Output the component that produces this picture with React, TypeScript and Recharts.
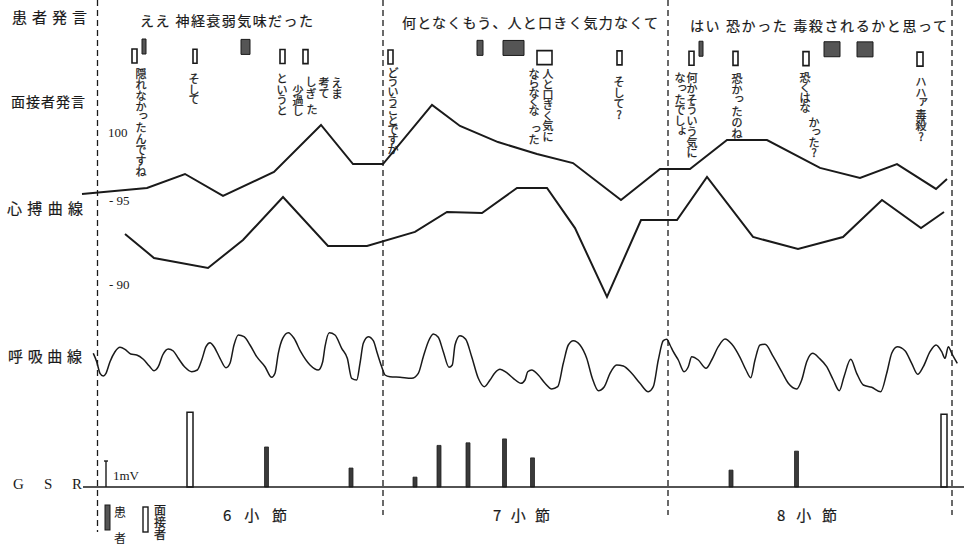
import React from 'react';
import {
  ComposedChart,
  XAxis,
  YAxis,
  Line,
  Bar,
  ReferenceLine,
  ReferenceArea,
  ReferenceDot,
} from 'recharts';

const JP = '"Noto Sans CJK JP", "Noto Sans CJK SC", sans-serif';
const SERIF = '"Liberation Serif", "DejaVu Serif", serif';
const INK = '#1a1a1a';

// ---- time axis (arbitrary units, 0..97) ----
const measureBounds = [9.75, 38.3, 66.8, 95.2];
const measureNames = ['6 小 節', '7 小 節', '8 小 節'];
const measureNameSpans = [[22.3, 28.7], [49.3, 55.0], [77.7, 83.7]];

// ---- patient speech ----
const patientSpeech = ['ええ 神経衰弱気味だった', '何となくもう、人と口きく気力なくて', 'はい 恐かった 毒殺されるかと思って'];
const patientSpeechSpans = [[14.0, 31.3], [40.2, 65.8], [69.0, 94.7]];

// ---- utterance markers (start, end) ----
const patientMarkStart = [14.2, 24.1, 47.7, 50.3, 69.9, 82.4, 85.7];
const patientMarkEnd = [14.6, 25.0, 48.3, 52.4, 70.3, 84.0, 87.3];
const interviewerMarkStart = [13.2, 19.3, 28.0, 30.3, 38.8, 53.7, 61.7, 68.9, 73.3, 80.3, 91.7];
const interviewerMarkEnd = [13.7, 19.7, 28.5, 30.8, 39.3, 55.2, 62.2, 69.4, 73.8, 80.9, 92.3];

// ---- interviewer utterances (vertical text columns) ----
const noteTimes = [14.1, 19.4, 28.2, 33.7, 32.4, 31.1, 29.8, 39.3, 54.8, 53.4, 61.9, 69.2, 68.0, 73.7, 80.5, 81.4, 92.1];
const noteTexts = [
  '隠れなかったんですね', 'そして', 'というと', 'えま', '考て', 'しぎ', '少過し',
  'どういうことですか', '人と口きく気に', 'ならなくな　った', 'そして?',
  '何かそういう気に', 'なったでしょ', '恐かったのね', '恐くはな', 'かった?', 'ハハァ毒殺?',
];
// layout of the columns: top (px) and character pitch (px)
const noteTops = [68, 73, 73, 76, 76, 75, 85, 67, 68, 68, 75, 72, 72, 72, 72, 117, 75];
const notePitch = [10.8, 10.5, 10.5, 11, 11, 12, 10, 9.6, 10.4, 9.4, 11, 10.7, 10.7, 11, 10, 10, 11];
const extraNoteTime = 31.2;
const extraNoteText = 'た';
const extraNoteTop = 103;

// ---- heart rate (beats/min) ----
const hrUpperT = [8.2, 14.7, 18.5, 22.3, 27.4, 32.1, 35.3, 38.3, 43.2, 46.0, 49.8, 53.7, 57.3, 62.1, 66.0, 69.0, 72.7, 76.7, 82.0, 86.0, 89.7, 93.6, 94.7];
const hrUpperV = [95.24, 95.6, 96.43, 95.12, 96.55, 99.35, 97.02, 97.02, 100.54, 99.29, 98.33, 97.62, 97.08, 94.88, 96.73, 96.73, 98.45, 98.45, 96.79, 96.19, 97.02, 95.54, 96.13];
const hrLowerT = [12.5, 15.4, 20.8, 24.3, 28.3, 32.8, 36.7, 41.5, 44.7, 48.2, 51.7, 54.7, 57.5, 60.7, 64.1, 67.7, 70.7, 75.3, 79.8, 84.3, 88.2, 92.1, 94.4];
const hrLowerV = [92.86, 91.43, 90.83, 92.5, 95.06, 92.14, 92.14, 92.98, 94.17, 94.11, 95.6, 95.6, 93.21, 89.11, 93.69, 93.69, 96.25, 92.68, 91.96, 92.68, 94.88, 93.21, 94.17];
const hrTicks = [90, 95];
const hrTopLabel = '100';

// ---- respiration (arbitrary units) ----
const respT = [
  9.33, 9.67, 10.0, 10.33, 10.6, 11.0, 11.5, 12.0, 12.5, 13.07, 13.67, 14.33, 14.93, 15.4, 15.83, 16.27, 16.83, 17.33, 17.83, 18.5,
  19.17, 19.73, 20.17, 20.6, 21.0, 21.4, 22.0, 22.6, 23.0, 23.4, 23.83, 24.4, 25.0, 25.67, 26.5, 27.17, 27.5, 27.83, 28.27, 28.83,
  29.4, 30.07, 31.0, 31.83, 32.27, 32.5, 32.93, 33.5, 34.17, 34.73, 35.17, 35.67, 36.0, 36.33, 36.83, 37.33, 37.73, 38.17, 38.5, 39.0,
  40.0, 41.17, 41.83, 42.33, 42.83, 43.33, 43.83, 44.33, 44.9, 45.23, 45.5, 46.0, 46.57, 47.17, 47.83, 48.43, 49.0, 49.5, 50.0, 50.67,
  51.33, 52.1, 52.5, 52.77, 53.17, 53.83, 54.5, 55.17, 55.77, 56.33, 56.83, 57.33, 58.0, 58.67, 59.23, 59.83, 60.43, 61.0, 61.67, 62.33,
  63.17, 64.0, 64.83, 65.33, 65.83, 66.33, 66.67, 67.0, 67.33, 67.83, 68.4, 68.83, 69.17, 69.83, 70.6, 71.17, 71.83, 72.5, 73.17, 74.0,
  74.6, 75.07, 75.5, 76.0, 76.5, 77.33, 78.17, 78.83, 79.67, 80.17, 80.67, 81.27, 81.93, 82.67, 83.33, 83.93, 84.4, 85.07, 85.67, 86.33,
  87.17, 88.07, 88.67, 89.17, 89.73, 90.5, 91.17, 91.77, 92.33, 93.0, 93.6, 94.17, 94.5, 94.83, 95.17, 95.73,
];
const respV = [
  11.7, 3.3, -8.3, -11, -8.3, 3.3, 13.3, 17.7, 15.7, 11, 10, 5.7, -1, -5.7, -1.7, 10, 16, 14, 6.7, -2.3,
  -6.7, -5, 5, 18.3, 22.3, 18.3, 6.7, -2.7, 1.7, 20, 30, 28.3, 20, 8.3, -1.7, -12.3, -8.3, 11.7, 26.7, 32.3,
  26.7, 13.3, 0, -5, 3.3, 18.3, 32.3, 30, 16.7, 6.7, -13.3, -15, 1.7, 21.7, 28.3, 24.3, 11.7, -1.7, -10, -11.7,
  -12.3, -13.3, -8.3, 8.3, 23.3, 31, 27.7, 13.3, -2.3, 0, 20, 29.3, 25.7, 8.3, -13.3, -21.7, -15, -7.7, -4.3, -7.7,
  -13.3, -18.3, -15, -6.7, -5, -10, -18.3, -24, -21.7, 1.7, 20, 24.3, 20, 6.7, -13.3, -25.7, -21.7, -8.3, 0, -1,
  -8.3, -18.3, -26.7, -21.7, 5, 24.3, 25.7, 20, 13.3, 5, -6.7, -1.7, 8.3, 5, -3.3, 5, 18.3, 26, 21, 7.7,
  -5, -12.7, 5, 20, 20.7, 8.3, -6.7, -18.3, -24, -15, 3.3, 11.7, 6.7, -1.7, -15, -25.7, -11.7, 5.7, -8.3, -20,
  -22.3, -26.7, -8.3, 11.7, 18.3, 14.3, 1.7, -9.3, -1.7, 13.3, 20, 13.3, 6.7, 18.3, 11.7, 1.7,
];

// ---- GSR (mV) ----
const gsrPatientT = [26.65, 35.1, 41.5, 43.9, 46.8, 50.45, 53.25, 73.1, 79.65];
const gsrPatientV = [1.54, 0.73, 0.38, 1.6, 1.7, 1.85, 1.12, 0.65, 1.38];
const gsrInterviewerT = [19.0, 94.4];
const gsrInterviewerV = [2.88, 2.8];
const gsrBaseT = [8.3, 96.4];
const gsrBaseV = [0, 0];
const gsrScaleT = 10.6;
const gsrScaleV = 1;

// ---- build series ----
const hrUpper = hrUpperT.map((t, i) => ({ t, v: hrUpperV[i] }));
const hrLower = hrLowerT.map((t, i) => ({ t, v: hrLowerV[i] }));
const resp = respT.map((t, i) => ({ t, r: respV[i] }));
const gsrBase = gsrBaseT.map((t, i) => ({ t, g: gsrBaseV[i] }));
const gsrScale = [{ t: gsrScaleT, g: 0 }, { t: gsrScaleT, g: gsrScaleV }];
const gsrBars = [
  ...gsrPatientT.map((t, i) => ({ t, p: gsrPatientV[i] })),
  ...gsrInterviewerT.map((t, i) => ({ t, q: gsrInterviewerV[i] })),
].sort((a, b) => a.t - b.t);

const SMALL = 'っゃゅょぁぃぅぇぉッャュョァィゥェォ';
const skew = (t: number) => (t - 14) * 0.04;

function VText({ x, y, text, pitch, fs }: { x: number; y: number; text: string; pitch: number; fs: number }) {
  return (
    <g>
      {Array.from(text).map((ch, i) => {
        if (ch === ' ' || ch === '　') return null;
        const small = SMALL.includes(ch);
        return (
          <text
            key={i}
            x={x + (small ? fs * 0.2 : 0)}
            y={y + i * pitch + pitch / 2 + (small ? -fs * 0.2 : 0)}
            fontSize={fs}
            fontFamily={JP}
            textAnchor="middle"
            dominantBaseline="central"
            fill={INK}
            stroke={INK}
            strokeWidth={0.25}
          >
            {ch}
          </text>
        );
      })}
    </g>
  );
}

const spanText = (text: string, fs: number, family: string) => (p: any) => (
  <text
    x={p.x}
    y={p.y + p.height / 2}
    textLength={p.width}
    lengthAdjust="spacing"
    fontSize={fs}
    fontFamily={family}
    dominantBaseline="central"
    fill={INK}
    stroke={INK}
    strokeWidth={0.2}
  >
    {text}
  </text>
);

const speechRows = [20, 22, 25];
const noLine = { dot: false, activeDot: false, isAnimationActive: false } as const;

export default function App() {
  const X = 't';
  return (
    <div style={{ position: 'absolute', left: 0, top: 0, width: 970, height: 545, background: '#fff' }}>
      <ComposedChart width={970} height={545} data={gsrBars} margin={{ top: 0, right: 0, bottom: 0, left: 0 }}>
        <XAxis xAxisId={X} dataKey="t" type="number" domain={[0, 97]} allowDataOverflow hide />
        <XAxis xAxisId="a" dataKey="t" type="number" domain={[0, 97]} allowDataOverflow hide />
        <XAxis xAxisId="b" dataKey="t" type="number" domain={[0, 97]} allowDataOverflow hide />
        <YAxis yAxisId="hr" type="number" domain={[74.345, 106.786]} allowDataOverflow hide />
        <YAxis yAxisId="resp" type="number" domain={[-180, 365]} allowDataOverflow hide />
        <YAxis yAxisId="gsr" type="number" domain={[-2.23, 18.73]} allowDataOverflow hide />
        <YAxis yAxisId="lay" type="number" domain={[0, 545]} reversed allowDataOverflow hide />

        {measureBounds.map((m, i) => (
          <ReferenceLine
            key={'mb' + i}
            xAxisId={X}
            yAxisId="lay"
            segment={[{ x: m, y: 0 }, { x: m, y: i === 0 ? 532 : 515 }]}
            stroke={INK}
            strokeWidth={1.3}
            strokeDasharray="6 4"
          />
        ))}

        {patientSpeech.map((s, i) => (
          <ReferenceArea
            key={'ps' + i}
            xAxisId={X}
            yAxisId="lay"
            x1={patientSpeechSpans[i][0]}
            x2={patientSpeechSpans[i][1]}
            y1={speechRows[i] - 7}
            y2={speechRows[i] + 7}
            shape={spanText(s, 14, JP)}
          />
        ))}

        {measureNames.map((s, i) => (
          <ReferenceArea
            key={'mn' + i}
            xAxisId={X}
            yAxisId="lay"
            x1={measureNameSpans[i][0]}
            x2={measureNameSpans[i][1]}
            y1={507}
            y2={521}
            shape={spanText(s, 15, JP)}
          />
        ))}

        {patientMarkStart.map((s, i) => (
          <ReferenceArea
            key={'pm' + i}
            xAxisId={X}
            yAxisId="lay"
            x1={s}
            x2={patientMarkEnd[i]}
            y1={39 + skew(s)}
            y2={54 + skew(s)}
            fill="#555"
            fillOpacity={1}
            stroke={INK}
            strokeWidth={1}
          />
        ))}
        {interviewerMarkStart.map((s, i) => (
          <ReferenceArea
            key={'im' + i}
            xAxisId={X}
            yAxisId="lay"
            x1={s}
            x2={interviewerMarkEnd[i]}
            y1={49 + skew(s)}
            y2={63 + skew(s)}
            fill="#fff"
            fillOpacity={1}
            stroke={INK}
            strokeWidth={1.6}
          />
        ))}

        {noteTexts.map((s, i) => (
          <ReferenceDot
            key={'nt' + i}
            xAxisId={X}
            yAxisId="lay"
            x={noteTimes[i]}
            y={noteTops[i]}
            r={1}
            shape={(p: any) => <VText x={p.cx} y={p.cy} text={s} pitch={notePitch[i]} fs={11} />}
          />
        ))}
        <ReferenceDot
          xAxisId={X}
          yAxisId="lay"
          x={extraNoteTime}
          y={extraNoteTop}
          r={1}
          shape={(p: any) => <VText x={p.cx} y={p.cy} text={extraNoteText} pitch={11} fs={11} />}
        />

        <ReferenceDot
          xAxisId={X}
          yAxisId="hr"
          x={10.8}
          y={98.87}
          r={1}
          shape={(p: any) => (
            <text x={p.cx} y={p.cy} fontSize={13} fontFamily={SERIF} dominantBaseline="central" fill={INK}>
              {hrTopLabel}
            </text>
          )}
        />
        {hrTicks.map((v) => (
          <ReferenceDot
            key={'hr' + v}
            xAxisId={X}
            yAxisId="hr"
            x={10.9}
            y={v}
            r={1}
            shape={(p: any) => (
              <text x={p.cx} y={p.cy + 2} fontSize={13} fontFamily={SERIF} dominantBaseline="central" fill={INK}>
                {'- ' + v}
              </text>
            )}
          />
        ))}

        <Line xAxisId={X} yAxisId="hr" data={hrUpper} dataKey="v" type="linear" stroke={INK} strokeWidth={2} {...noLine} />
        <Line xAxisId={X} yAxisId="hr" data={hrLower} dataKey="v" type="linear" stroke={INK} strokeWidth={2} {...noLine} />
        <Line xAxisId={X} yAxisId="resp" data={resp} dataKey="r" type="monotone" stroke={INK} strokeWidth={1.5} {...noLine} />

        <Line xAxisId={X} yAxisId="gsr" data={gsrBase} dataKey="g" type="linear" stroke={INK} strokeWidth={1.6} {...noLine} />
        <Line xAxisId={X} yAxisId="gsr" data={gsrScale} dataKey="g" type="linear" stroke={INK} strokeWidth={1.4} {...noLine} />
        <ReferenceLine
          xAxisId={X}
          yAxisId="gsr"
          segment={[{ x: gsrScaleT - 0.2, y: gsrScaleV }, { x: gsrScaleT + 0.2, y: gsrScaleV }]}
          stroke={INK}
          strokeWidth={1.4}
        />
        <ReferenceDot
          xAxisId={X}
          yAxisId="gsr"
          x={11.3}
          y={0.45}
          r={1}
          shape={(p: any) => (
            <text x={p.cx} y={p.cy} fontSize={13} fontFamily={SERIF} dominantBaseline="central" fill={INK}>
              1mV
            </text>
          )}
        />

        <Bar xAxisId="a" yAxisId="gsr" dataKey="p" barSize={4} fill="#3a3a3a" stroke="#222" strokeWidth={0.8} isAnimationActive={false} />
        <Bar xAxisId="b" yAxisId="gsr" dataKey="q" barSize={6} fill="#fff" stroke={INK} strokeWidth={1.5} isAnimationActive={false} />
      </ComposedChart>

      <svg width={970} height={545} style={{ position: 'absolute', left: 0, top: 0, pointerEvents: 'none' }}>
        <g fill={INK} stroke={INK} strokeWidth={0.2} fontFamily={JP}>
          <text x={12} y={16} fontSize={15} textLength={75} lengthAdjust="spacing" dominantBaseline="central">患者発言</text>
          <text x={11} y={101} fontSize={14} textLength={74} lengthAdjust="spacing" dominantBaseline="central">面接者発言</text>
          <text x={7} y={207} fontSize={15} textLength={76} lengthAdjust="spacing" dominantBaseline="central">心搏曲線</text>
          <text x={8} y={355} fontSize={15} textLength={74} lengthAdjust="spacing" dominantBaseline="central">呼吸曲線</text>
        </g>
        <g fill={INK} fontFamily={SERIF} fontSize={15}>
          <text x={13} y={484} dominantBaseline="central">G</text>
          <text x={44} y={484} dominantBaseline="central">S</text>
          <text x={72} y={484} dominantBaseline="central">R</text>
        </g>
        {/* legend */}
        <rect x={105} y={505} width={5} height={25} fill="#555" stroke={INK} strokeWidth={1} />
        <text x={120} y={511} fontSize={12} fontFamily={JP} textAnchor="middle" dominantBaseline="central" fill={INK}>患</text>
        <text x={120} y={537} fontSize={12} fontFamily={JP} textAnchor="middle" dominantBaseline="central" fill={INK}>者</text>
        <rect x={143} y={507} width={5} height={25} fill="#fff" stroke={INK} strokeWidth={1.4} />
        <VText x={160} y={503} text="面接者" pitch={12} fs={12} />
      </svg>
    </div>
  );
}
